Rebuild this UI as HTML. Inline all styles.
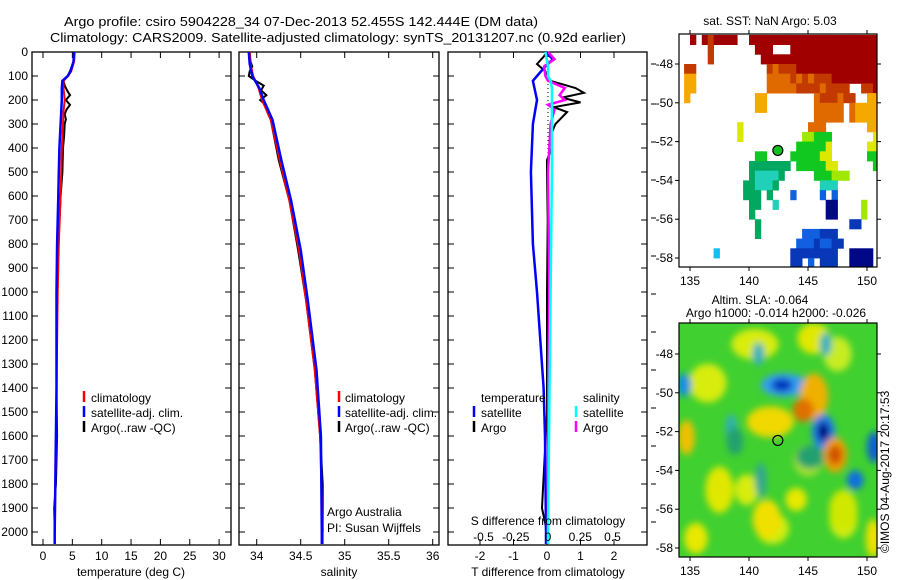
<!DOCTYPE html>
<html><head><meta charset="utf-8"><style>
html,body{margin:0;padding:0;background:#fff}
svg{display:block;font-family:"Liberation Sans",sans-serif;font-size:12px}
</style></head><body>
<svg id="chart" width="900" height="580" viewBox="0 0 900 580">
<defs>
<filter id="blur" x="-20%" y="-20%" width="140%" height="140%"><feGaussianBlur stdDeviation="3.5"/></filter>
<clipPath id="clipSla"><rect x="679" y="323" width="198" height="234"/></clipPath>
</defs>
<text x="301" y="26" text-anchor="middle" font-size="13" textLength="474" lengthAdjust="spacingAndGlyphs">Argo profile: csiro 5904228_34 07-Dec-2013 52.455S 142.444E (DM data)</text>
<text x="338" y="42" text-anchor="middle" font-size="13" textLength="576" lengthAdjust="spacingAndGlyphs">Climatology: CARS2009. Satellite-adjusted climatology: synTS_20131207.nc (0.92d earlier)</text>
<g id="panels"></g>
<g id="maps"></g>
<text transform="translate(889,553) rotate(-90)" font-size="12">©IMOS 04-Aug-2017 20:17:53</text>
</svg>
<script>
// ---------- profile data ----------
const depthTicks = [0,100,200,300,400,500,600,700,800,900,1000,1100,1200,1300,1400,1500,1600,1700,1800,1900,2000];
const tempTicks = [0,5,10,15,20,25,30];
const salTicks = [34,34.5,35,35.5,36];
const salTickLabels = ["34","34.5","35","35.5","36"];
const tdiffTicks = [-2,-1,0,1,2];
const sdiffTicks = [-0.5,-0.25,0,0.25,0.5];

const tClimDepth = [0,40,80,100,120,150,200,250,300,400,500,600,800,1000,1200,1400,1600,1800,2000,2050];
const tClimVals  = [5.4,5.3,4.8,4.3,3.5,3.5,3.7,3.5,3.4,3.2,3.1,3.0,2.7,2.5,2.4,2.3,2.3,2.1,2.0,2.0];
const tSatVals   = [5.3,5.2,4.7,4.2,3.3,3.2,3.2,3.1,3.0,2.8,2.7,2.6,2.4,2.3,2.3,2.3,2.2,2.1,2.0,2.0];
const tArgoDepth = [0,40,80,100,120,140,160,180,200,220,240,260,280,300,350,400,500,600,800,1000,1200,1400,1600,1800,1900,2000];
const tArgoVals  = [5.3,5.2,4.6,4.2,3.5,3.7,4.1,4.6,3.9,4.6,4.0,3.7,3.9,3.7,3.6,3.4,3.3,3.0,2.6,2.4,2.3,2.3,2.4,2.2,1.9,2.0];

const sClimDepth = [0,50,100,150,200,283,450,617,825,1033,1325,1600,2000,2050];
const sClimVals  = [33.92,33.93,33.96,34.02,34.06,34.16,34.26,34.37,34.48,34.56,34.66,34.72,34.75,34.75];
const sSatVals   = [33.91,33.92,33.95,34.03,34.08,34.18,34.28,34.39,34.5,34.58,34.68,34.73,34.74,34.74];
const sArgoDepth = [0,40,60,80,100,120,140,160,180,200,220,250,283,450,617,825,1033,1325,1600,1800,2000];
const sArgoVals  = [33.92,33.93,33.95,33.92,33.91,33.99,34.08,34.05,34.11,34.04,34.1,34.12,34.16,34.25,34.37,34.47,34.56,34.66,34.72,34.75,34.75];

const dSatDepth = [0,30,60,100,120,200,300,500,800,1000,1200,1400,1600,2000,2050];
const dSatTVals = [-0.05,0.18,-0.05,-0.3,-0.42,-0.3,-0.42,-0.48,-0.42,-0.3,-0.2,-0.1,-0.06,-0.03,-0.03];
const dArgoTDepth = [0,20,50,80,100,120,150,170,190,210,230,250,300,350,400,450,500,700,1000,1500,1900,2000];
const dArgoTVals  = [0,-0.1,-0.3,-0.05,0.0,0.1,0.85,1.1,0.45,1.0,0.2,0.6,0.25,0.1,0.15,0.0,0.0,0.02,0.0,0.0,-0.15,0.0];
const dSDepth = [0,30,60,100,120,150,180,200,220,240,300,500,1000,1500,2000,2050];
const dArgoSVals = [0,0.05,-0.03,-0.02,0.0,0.13,0.09,0.13,0.0,0.05,0.02,0.0,0.01,0.0,0.0,0.0];
const dSatSVals  = [-0.02,-0.01,0.0,0.0,0.02,0.03,0.03,0.03,0.03,0.03,0.03,0.03,0.02,0.01,0.0,0.0];

const NS = "http://www.w3.org/2000/svg";
function mk(tag, attrs, parent){const e=document.createElementNS(NS,tag);for(const k in attrs)e.setAttribute(k,attrs[k]);parent.appendChild(e);return e;}
const panels = document.getElementById('panels');
const TOP=52, BOT=545;
function yD(d){return TOP + d*0.24;}

function panel(x0,x1,name,xs,ticks,labels){
  const g=mk('g',{},panels);
  
  
  const r=mk('rect',{x:x0,y:TOP,width:x1-x0,height:BOT-TOP,fill:'none',stroke:'#000','stroke-width':1.3},g);
  
  
  ticks.forEach((t,i)=>{
    const x=xs(t);
    mk('line',{x1:x,x2:x,y1:TOP,y2:TOP+6,stroke:'#000'},g);
    mk('line',{x1:x,x2:x,y1:BOT,y2:BOT-6,stroke:'#000'},g);
    if(labels){const tx=mk('text',{x:x,y:560,'text-anchor':'middle'},g);tx.textContent=labels[i];
      
      }
  });
  depthTicks.forEach(d=>{
    mk('line',{x1:x0,x2:x0+6,y1:yD(d),y2:yD(d),stroke:'#000'},g);
    mk('line',{x1:x1,x2:x1-6,y1:yD(d),y2:yD(d),stroke:'#000'},g);
  });
  return g;
}
function line(g,xs,vals,depths,color,w,name){
  const pts=vals.map((v,i)=>xs(v).toFixed(1)+','+yD(depths[i]).toFixed(1)).join(' ');
  const p=mk('polyline',{points:pts,fill:'none',stroke:color,'stroke-width':w},g);
  
  
}
function txt(g,x,y,s,name,anchor){const t=mk('text',{x:x,y:y,'text-anchor':anchor||'start'},g);t.textContent=s;
  
  return t;}
function legMark(g,x,y,color,name){const l=mk('line',{x1:x,x2:x,y1:y-11,y2:y,stroke:color,'stroke-width':2.5},g);
  
  }

const dl=mk('g',{},panels);


depthTicks.forEach(d=>{txt(dl,28,yD(d)+4,String(d),'depth-tick-label','end');});

const xT=v=>43+v*5.87;
const g1=panel(32,231,'temperature-panel',xT,tempTicks,tempTicks.map(String));
line(g1,xT,tArgoVals,tArgoDepth,'#000',2,'temp-argo-line');
line(g1,xT,tClimVals,tClimDepth,'#f00',2,'temp-climatology-line');
line(g1,xT,tSatVals,tClimDepth,'#00f',2.5,'temp-satellite-line');
txt(g1,131,576,'temperature (deg C)','x-axis-title-temperature','middle');
legMark(g1,84,402,'#f00','legend-climatology-mark');txt(g1,91,402,'climatology','legend-climatology');
legMark(g1,84,417,'#00f','legend-satellite-mark');txt(g1,91,417,'satellite-adj. clim.','legend-satellite');
legMark(g1,84,432,'#000','legend-argo-mark');txt(g1,91,432,'Argo(..raw -QC)','legend-argo');

const xS=v=>256.7+(v-34)*88;
const g2=panel(239,439,'salinity-panel',xS,salTicks,salTickLabels);
line(g2,xS,sArgoVals,sArgoDepth,'#000',2,'sal-argo-line');
line(g2,xS,sClimVals,sClimDepth,'#f00',2,'sal-climatology-line');
line(g2,xS,sSatVals,sClimDepth,'#00f',2.5,'sal-satellite-line');
txt(g2,339,576,'salinity','x-axis-title-salinity','middle');
legMark(g2,339,402,'#f00','legend2-climatology-mark');txt(g2,345,402,'climatology','legend2-climatology');
legMark(g2,339,417,'#00f','legend2-satellite-mark');txt(g2,345,417,'satellite-adj. clim.','legend2-satellite');
legMark(g2,339,432,'#000','legend2-argo-mark');txt(g2,345,432,'Argo(..raw -QC)','legend2-argo');
txt(g2,327,516,'Argo Australia','argo-australia-note');
txt(g2,327,532,'PI: Susan Wijffels','pi-note');

const xTd=v=>547+v*33.5;
const xSd=v=>548+v*129;
const g3=panel(448,647,'difference-panel',xTd,tdiffTicks,tdiffTicks.map(String));
mk('line',{x1:548,x2:548,y1:TOP,y2:300,stroke:'#000','stroke-dasharray':'1,3'},g3);
line(g3,xTd,dArgoTVals,dArgoTDepth,'#000',2,'tdiff-argo-line');
line(g3,xTd,dSatTVals,dSatDepth,'#00f',2.5,'tdiff-satellite-line');
line(g3,xSd,dArgoSVals,dSDepth,'#f0f',2.5,'sdiff-argo-line');
line(g3,xSd,dSatSVals,dSDepth,'#0ff',2.5,'sdiff-satellite-line');
sdiffTicks.forEach(v=>{txt(g3,xSd(v),541,String(v),'s-diff-tick-label','middle');});
txt(g3,548,525,'S difference from climatology','s-diff-axis-title','middle');
txt(g3,548,576,'T difference from climatology','x-axis-title-tdiff','middle');
txt(g3,481,402,'temperature','legend3-temperature-header');
txt(g3,583,402,'salinity','legend3-salinity-header');
legMark(g3,474,417,'#00f','legend3-tsat-mark');txt(g3,481,417,'satellite','legend3-t-satellite');
legMark(g3,474,432,'#000','legend3-targo-mark');txt(g3,481,432,'Argo','legend3-t-argo');
legMark(g3,576,417,'#0ff','legend3-ssat-mark');txt(g3,583,417,'satellite','legend3-s-satellite');
legMark(g3,576,432,'#f0f','legend3-sargo-mark');txt(g3,583,432,'Argo','legend3-s-argo');
[64,104,142,180,218,256,294,332,370,408,446,484,522].forEach(y=>mk('line',{x1:651,x2:656,y1:y,y2:y,stroke:'#000'},g3));

// ---------- maps ----------
const maps=document.getElementById('maps');
const lonTicks=[135,140,145,150];
const latTicks=[-48,-50,-52,-54,-56,-58];
const argoLon=142.444, argoLat=-52.455;
const lonX=lon=>690+(lon-135)*11.8;
const sstRows=[
"..R.RrRRRR..RRRRRRRRRRRRRRRRRRRRRR",
".....r.......RRR...RRRRRRRRRRRRRRR",
".....r........RRRRRRRRRRRRRRRRRRRR",
".rr............rorrrRRRRRRRRRRRRRR",
".OO............oooorororrrRRRRRRRR",
".OO............ooooorrrrorrrr..rrR",
".O...........OO........orrrorr..OO",
".............OO........ooooo.oOOOO",
".......................ooooo.oOOOO",
"..........y...........ooo.......OO",
"..........y..........llggg.......y",
"....................gggggy......yy",
".............gg....gggggyy......gg",
"............GGGGGGG.gggggyy......g",
"............GccccG.....ggglll.....",
"...........GGcccG.......ccc.......",
"...........GGG.G...b....b.b.......",
"............GG..c........NN....l..",
"............G............NN....l..",
".............G...............BB...",
".............G.......bbbBBB.......",
"....................bbbBbbBB......",
"......s............BBBBBBBB..NNNN.",
"...................BB.b.BBB..NNNN."];
const sstColors={R:'#a00000',r:'#c33a00',o:'#e06a00',O:'#f5a800',y:'#dde800',l:'#a0e800',g:'#10c820',G:'#00a860',c:'#20d0b8',s:'#10c0f0',b:'#1060e0',B:'#0838b8',N:'#000888'};
const m1=mk('g',{},maps);


const latY1=lat=>64+(-48-lat)*19.4;
sstRows.forEach((row,ri)=>{
  for(let ci=0;ci<row.length;ci++){
    const ch=row[ci]; if(ch==='.')continue;
    const lon=134+ci*0.5, lat=-46.5-ri*0.5;
    const x=Math.max(679,lonX(lon)), x2=Math.min(877,lonX(lon+0.5));
    const y=Math.max(34,latY1(lat)), y2=Math.min(267,latY1(lat-0.5));
    mk('rect',{x:x,y:y,width:x2-x+0.4,height:y2-y+0.4,fill:sstColors[ch]},m1);
  }
});
function mapFrame(g,y0,y1,latY,name){
  const r=mk('rect',{x:679,y:y0,width:198,height:y1-y0,fill:'none',stroke:'#000','stroke-width':1.2},g);
  
  
  lonTicks.forEach(l=>{const x=lonX(l);
    mk('line',{x1:x,x2:x,y1:y0-4,y2:y0,stroke:'#000'},g);
    mk('line',{x1:x,x2:x,y1:y1,y2:y1+4,stroke:'#000'},g);
    txt(g,x,y1+18,String(l),name+'-lon-label','middle');});
  latTicks.forEach(l=>{const y=latY(l);
    mk('line',{x1:675,x2:679,y1:y,y2:y,stroke:'#000'},g);
    mk('line',{x1:877,x2:881,y1:y,y2:y,stroke:'#000'},g);
    txt(g,673,y+4,String(l),name+'-lat-label','end');});
  const c=mk('circle',{cx:lonX(argoLon),cy:latY(argoLat),r:5,fill:'none',stroke:'#000','stroke-width':1.2},g);
  
  
}
mk('circle',{cx:lonX(argoLon),cy:latY1(argoLat),r:4.5,fill:'#10c020'},m1);
mapFrame(m1,34,267,latY1,'sst-map');
txt(m1,770,25,'sat. SST: NaN Argo: 5.03','sst-map-title','middle');

// SLA map (blob centres lon/lat, half-widths in degrees)
const slaLon=[136.5,140.5,145.5,147.5,137.5,139.8,148,135.5,142,145,143.0,142.8,145.5,144.6,141.8,146.3,146.3,147.3,147.3,150.6,149,134.5,134.7,138.5,141,144,146.5,141.5,148,138.8,140.8,150.5,145.2];
const slaLat=[-49.5,-47.5,-47.2,-48,-55,-55,-56.5,-57.5,-57,-53.5,-49.6,-49.6,-50.2,-50.9,-51.5,-52,-52,-53.2,-53.2,-52.8,-54.5,-49.6,-52.3,-51.8,-54.5,-55.5,-47.5,-56.5,-56,-52.5,-48,-57.5,-53.3];
const slaRx=[1.6,2.0,1.4,1.2,1.2,1.0,1.2,1.0,1.4,1.2,2.0,0.9,1.2,0.9,2.0,1.0,0.5,1.0,0.6,0.6,0.7,0.6,0.7,0.5,0.5,0.9,0.5,1.2,1.2,0.7,0.5,0.6,1.2];
const slaRy=[1.0,0.8,0.8,0.9,1.2,0.8,1.0,0.8,0.8,0.8,0.6,0.35,1.2,0.6,0.8,0.9,0.5,0.9,0.5,0.8,0.5,0.6,0.9,0.7,0.9,0.6,0.6,1.0,1.0,0.7,0.6,1.0,0.6];
const slaCol=['#d8ec10','#d8ec10','#e0e800','#c8ec20','#e0e800','#d8ec10','#d0ec10','#e8e800','#d0ec10','#a8e030','#30a0f0','#0038c0','#f0b000','#e07000','#f0d800','#2080e8','#000080','#f0a000','#d05000','#1060d0','#1070e0','#1090e0','#f0c000','#30b0b0','#30a890','#e8e800','#30b0c0','#f0e000','#d0e800','#20a070','#30b0c0','#f0e000','#20a070'];
const m2=mk('g',{},maps);


const latY2=lat=>354+(-48-lat)*19.4;
const inner=mk('g',{'clip-path':'url(#clipSla)'},m2);
mk('rect',{x:679,y:323,width:198,height:234,fill:'#40d030'},inner);
const bl=mk('g',{filter:'url(#blur)'},inner);
slaLon.forEach((lon,i)=>{
  const e=mk('ellipse',{cx:lonX(lon),cy:latY2(slaLat[i]),rx:slaRx[i]*11.8,ry:slaRy[i]*19.4,fill:slaCol[i]},bl);
  
  
});
mapFrame(m2,323,557,latY2,'sla-map');
txt(m2,760,304,'Altim. SLA: -0.064','sla-map-title','middle');
txt(m2,776,317,'Argo h1000: -0.014 h2000: -0.026','sla-map-subtitle','middle');
</script>
</body></html>
